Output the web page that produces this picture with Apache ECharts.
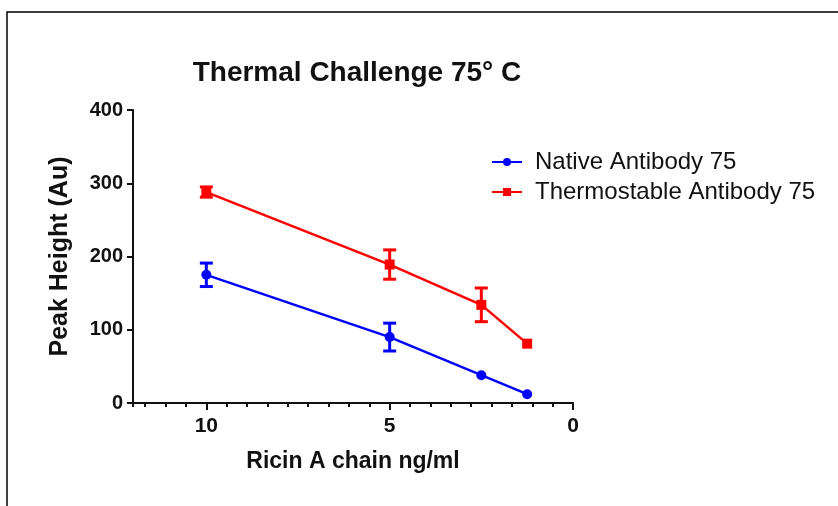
<!DOCTYPE html>
<html>
<head>
<meta charset="utf-8">
<script src="https://cdn.jsdelivr.net/npm/echarts@6/dist/echarts.min.js"></script>
<style>html,body{margin:0;padding:0;background:#fff;}#c{width:838px;height:506px;}</style>
</head>
<body>
<div id="c"></div>
<script>
var concentrations = [10, 5, 2.5, 1.25];
var nativeMean = [175, 90, 38, 12];
var nativeErr = [16, 19, 0, 0];
var thermoMean = [288, 189, 134, 81];
var thermoErr = [7, 20, 23, 0];
var xTicks = [0, 5, 10];
var yTicks = [0, 100, 200, 300, 400];
var seriesNames = ['Native Antibody 75', 'Thermostable Antibody 75'];
var blue = '#0000ff', red = '#ff0000';

function pts(m) { return concentrations.map(function (c, i) { return [c, m[i]]; }); }
function errs(m, e) {
  var out = [];
  concentrations.forEach(function (c, i) { if (e[i] > 0) out.push([c, m[i] - e[i], m[i] + e[i]]); });
  return out;
}
function errRender(color) {
  return function (params, api) {
    var x = api.value(0);
    var lo = api.coord([x, api.value(1)]);
    var hi = api.coord([x, api.value(2)]);
    var w = 6.5;
    var st = { stroke: color, lineWidth: 3 };
    return { type: 'group', children: [
      { type: 'line', shape: { x1: lo[0], y1: lo[1], x2: hi[0], y2: hi[1] }, style: st },
      { type: 'line', shape: { x1: lo[0] - w, y1: lo[1], x2: lo[0] + w, y2: lo[1] }, style: st },
      { type: 'line', shape: { x1: hi[0] - w, y1: hi[1], x2: hi[0] + w, y2: hi[1] }, style: st }
    ]};
  };
}

var chart = echarts.init(document.getElementById('c'));
var font = 'Liberation Sans, Arial, sans-serif';
chart.setOption({
  animation: false,
  backgroundColor: '#fff',
  textStyle: { fontFamily: font },
  graphic: [{ type: 'rect', shape: { x: 7, y: 12, width: 900, height: 600 }, style: { fill: 'none', stroke: '#000', lineWidth: 1.5 } }],
  title: { text: 'Thermal Challenge 75° C', left: 352, top: 54, textAlign: 'center',
    textStyle: { fontFamily: font, fontSize: 28, fontWeight: 'bold', color: '#111' } },
  legend: {
    orient: 'vertical', left: 486, top: 145, itemWidth: 30, itemHeight: 10, itemGap: 6,
    data: seriesNames,
    textStyle: { fontFamily: font, fontSize: 24, lineHeight: 24, color: '#111', padding: [0, 0, 0, 8] }
  },
  grid: { left: 133, right: 265, top: 110, bottom: 103 },
  xAxis: [{
    type: 'value', inverse: true, min: 0, max: 12, interval: 5,
    name: 'Ricin A chain ng/ml', nameLocation: 'middle', nameGap: 47,
    nameTextStyle: { fontFamily: font, fontSize: 23, fontWeight: 'bold', color: '#111' },
    axisLine: { show: true, onZero: false, lineStyle: { color: '#111', width: 2 } },
    axisTick: { show: true, length: 7, lineStyle: { color: '#111', width: 2 }, customValues: xTicks },
    axisLabel: { fontFamily: font, fontSize: 21, fontWeight: 'bold', color: '#111', margin: 13, customValues: xTicks },
    splitLine: { show: false }
  }, {
    type: 'value', inverse: true, min: 0, max: 12, interval: 5 / 9, position: 'bottom',
    axisLine: { show: false, onZero: false },
    axisTick: { show: true, length: 4, lineStyle: { color: '#111', width: 2 } },
    axisLabel: { show: false }, splitLine: { show: false }
  }],
  yAxis: {
    type: 'value', min: 0, max: 400, interval: 100, position: 'left',
    name: 'Peak Height (Au)', nameLocation: 'middle', nameGap: 60,
    nameTextStyle: { fontFamily: font, fontSize: 25, fontWeight: 'bold', color: '#111' },
    axisLine: { show: true, onZero: false, lineStyle: { color: '#111', width: 2 } },
    axisTick: { show: true, length: 6, lineStyle: { color: '#111', width: 2 } },
    axisLabel: { fontFamily: font, fontSize: 20, fontWeight: 'bold', color: '#111', margin: 10 },
    splitLine: { show: false }
  },
  series: [
    { name: seriesNames[0], type: 'line', data: pts(nativeMean), color: blue,
      symbol: 'circle', symbolSize: 10, lineStyle: { width: 2.5, color: blue }, itemStyle: { color: blue } },
    { name: seriesNames[1], type: 'line', data: pts(thermoMean), color: red,
      symbol: 'rect', symbolSize: 10, lineStyle: { width: 2.5, color: red }, itemStyle: { color: red } },
    { name: 'nErr', type: 'custom', data: errs(nativeMean, nativeErr), renderItem: errRender(blue), z: 3 },
    { name: 'tErr', type: 'custom', data: errs(thermoMean, thermoErr), renderItem: errRender(red), z: 3 }
  ]
});
</script>
</body>
</html>
